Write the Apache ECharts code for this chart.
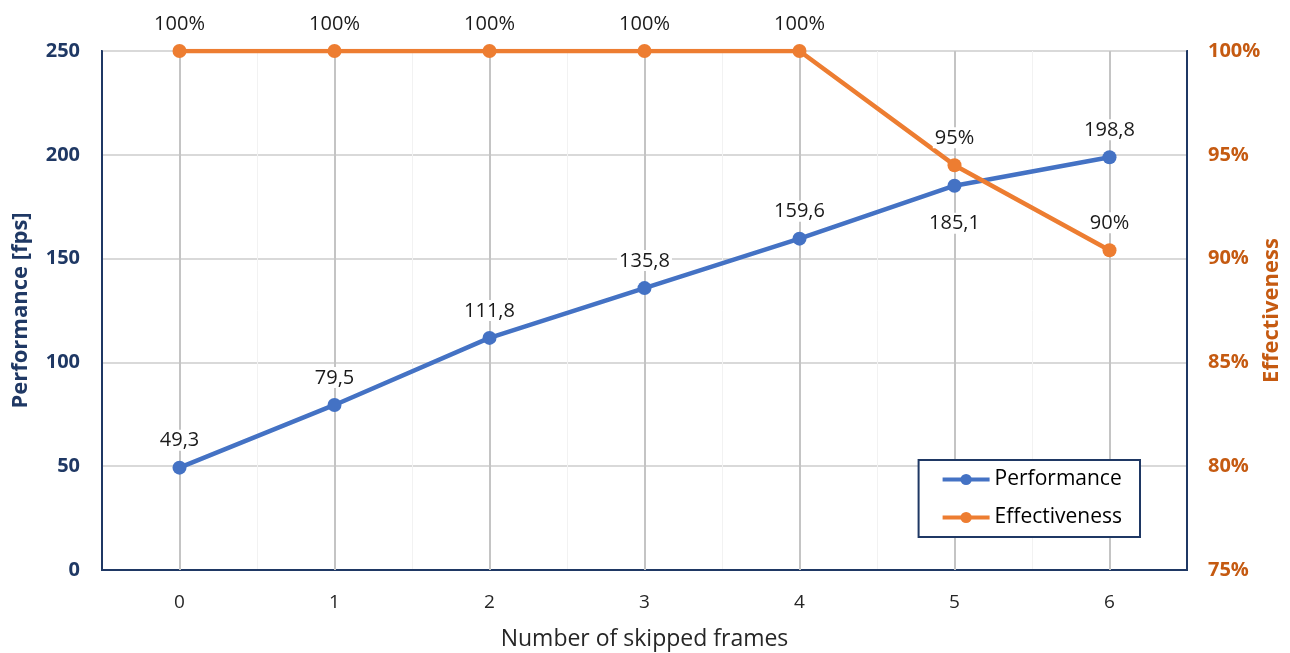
<!DOCTYPE html>
<html>
<head>
<meta charset="utf-8">
<script src="https://cdn.jsdelivr.net/npm/echarts@6/dist/echarts.min.js"></script>
<style>
html,body{margin:0;padding:0;background:#fff;}
#chart{width:1290px;height:653px;}
</style>
</head>
<body>
<div id="chart"></div>
<script>
const categories = ['0', '1', '2', '3', '4', '5', '6'];
const performance = [49.3, 79.5, 111.8, 135.8, 159.6, 185.1, 198.8];
const effectiveness = [100, 100, 100, 100, 100, 94.5, 90.4];
const perfLabelBelow = [false, false, false, false, false, true, false];

const NAVY = '#1F3864';
const ORANGE_TXT = '#C55A11';
const BLUE = '#4472C4';
const ORANGE = '#ED7D31';
const FONT = '"Open Sans", "Liberation Sans", sans-serif';

const chart = echarts.init(document.getElementById('chart'));
chart.setOption({
  animation: false,
  backgroundColor: '#fff',
  textStyle: { fontFamily: FONT },
  grid: {
    left: 102, right: 103, top: 51, bottom: 83,
    outerBoundsMode: 'none', containLabel: false,
    show: true, borderColor: NAVY, borderWidth: 2, backgroundColor: 'transparent'
  },
  legend: {
    right: 150, bottom: 116,
    orient: 'vertical',
    backgroundColor: '#fff',
    borderColor: NAVY, borderWidth: 2,
    padding: [9, 18, 9, 22],
    itemGap: 17,
    itemWidth: 47, itemHeight: 14,
    lineStyle: { width: 4 },
    textStyle: { fontSize: 21, color: '#000', fontFamily: FONT },
    data: ['Performance', 'Effectiveness']
  },
  xAxis: {
    type: 'category',
    data: categories,
    boundaryGap: true,
    name: 'Number of skipped frames',
    nameLocation: 'middle',
    nameGap: 58,
    nameMoveOverlap: false,
    nameTextStyle: { fontSize: 23, color: '#262626', fontFamily: FONT },
    axisLine: { lineStyle: { color: NAVY, width: 2 } },
    axisTick: { show: true, alignWithLabel: true, inside: true, length: 6, lineStyle: { color: NAVY, width: 2 } },
    axisLabel: { fontSize: 19, color: '#262626', margin: 23 },
    splitLine: { show: true, lineStyle: { color: '#f2f2f2', width: 1 } }
  },
  yAxis: [
    {
      type: 'value', min: 0, max: 250, interval: 50,
      name: 'Performance [fps]',
      nameLocation: 'middle', nameGap: 70, nameRotate: 90,
      nameMoveOverlap: false,
      nameTextStyle: { fontSize: 22, fontWeight: 'bold', color: NAVY, fontFamily: FONT },
      axisLine: { show: true, lineStyle: { color: NAVY, width: 2 } },
      axisTick: { show: false },
      axisLabel: { fontSize: 20, fontWeight: 'bold', color: NAVY, margin: 22 },
      splitLine: { show: true, lineStyle: { color: '#d9d9d9', width: 2 } }
    },
    {
      type: 'value', min: 75, max: 100, interval: 5,
      name: 'Effectiveness',
      nameLocation: 'middle', nameGap: 74, nameRotate: 90,
      nameMoveOverlap: false,
      nameTextStyle: { fontSize: 22, fontWeight: 'bold', color: ORANGE_TXT, fontFamily: FONT },
      axisLine: { show: true, lineStyle: { color: NAVY, width: 2 } },
      axisTick: { show: false },
      axisLabel: { fontSize: 20, fontWeight: 'bold', color: ORANGE_TXT, margin: 21, formatter: '{value}%' },
      splitLine: { show: false }
    }
  ],
  series: [
    {
      name: 'catLines',
      type: 'line',
      data: [],
      z: 1,
      silent: true,
      markLine: {
        z: 1,
        silent: true,
        symbol: 'none',
        label: { show: false },
        lineStyle: { color: '#c4c4c4', width: 2, type: 'solid' },
        data: categories.map(c => ({ xAxis: c }))
      }
    },
    {
      name: 'Performance',
      type: 'line',
      yAxisIndex: 0,
      z: 3,
      data: performance.map((v, i) => ({
        value: v,
        label: perfLabelBelow[i] ? { position: 'bottom', distance: 20 } : undefined
      })),
      symbol: 'circle', symbolSize: 14,
      lineStyle: { color: BLUE, width: 4.5 },
      itemStyle: { color: BLUE },
      label: {
        show: true, position: 'top', distance: 10,
        fontSize: 20, color: '#1a1a1a', fontFamily: FONT,
        backgroundColor: '#fff', padding: [1, 2, 0, 2],
        formatter: p => String(p.value).replace('.', ',')
      }
    },
    {
      name: 'Effectiveness',
      type: 'line',
      yAxisIndex: 1,
      z: 4,
      data: effectiveness,
      symbol: 'circle', symbolSize: 14,
      lineStyle: { color: ORANGE, width: 4.5 },
      itemStyle: { color: ORANGE },
      label: {
        show: true, position: 'top', distance: 10,
        fontSize: 20, color: '#1a1a1a', fontFamily: FONT,
        backgroundColor: '#fff', padding: [1, 2, 0, 2],
        formatter: p => Math.round(p.value) + '%'
      }
    }
  ]
});
</script>
</body>
</html>
